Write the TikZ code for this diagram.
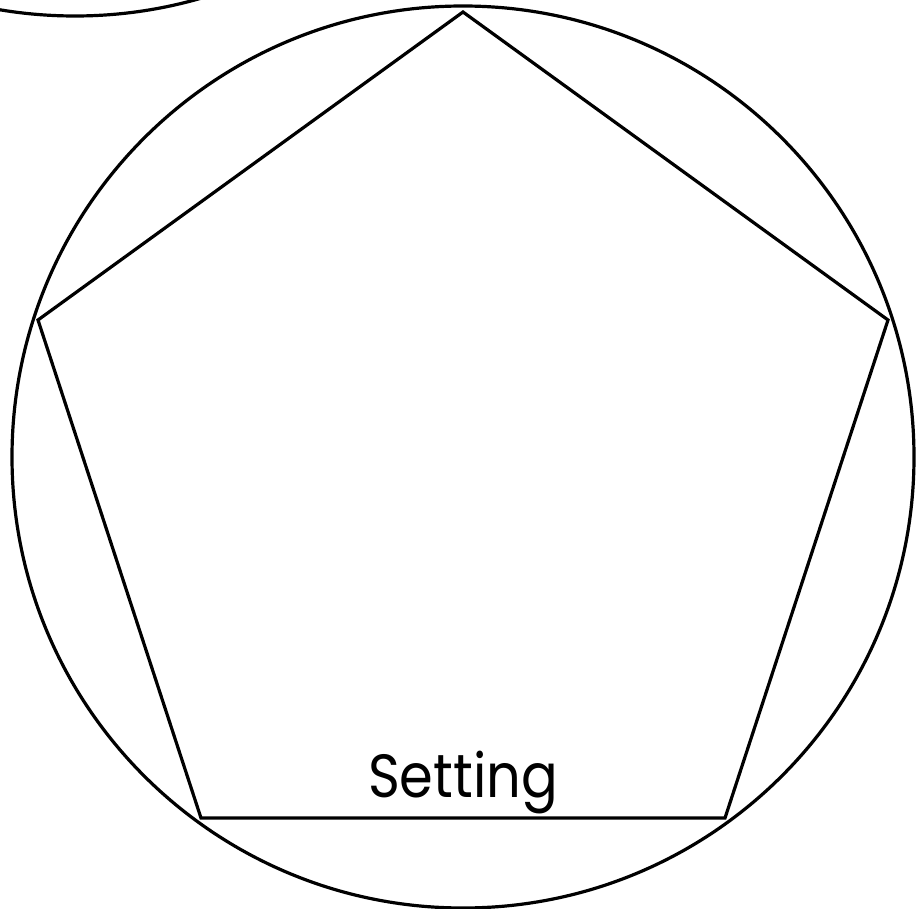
\documentclass[tikz,border=0pt]{standalone}
\usepackage{fontspec}
\newfontfamily\labelfont{Poppins}
\begin{document}
\begin{tikzpicture}[x=1pt,y=-1pt,line width=3.2pt,
  shape line/.style={draw=black,line join=miter},
  labeltext/.style={font=\labelfont\fontsize{61}{70}\selectfont,inner sep=0pt,anchor=base}]
\useasboundingbox (0,0) rectangle (923,909);
\begin{scope}
\clip (0,0) rectangle (923,909);
\draw[shape line] (75,-436) circle[radius=452];
\draw[shape line] (463,457) circle[radius=451];
\end{scope}
\coordinate (p1) at (463,12);
\coordinate (p2) at (888,320);
\coordinate (p3) at (725,818);
\coordinate (p4) at (201,818);
\coordinate (p5) at (38,320);
\draw[shape line] (p1) -- (p2) -- (p3) -- (p4) -- (p5) -- cycle;
\node[labeltext] (label) at (463,797) {\scalebox{0.89}[1]{Setting}};
\end{tikzpicture}
\end{document}
